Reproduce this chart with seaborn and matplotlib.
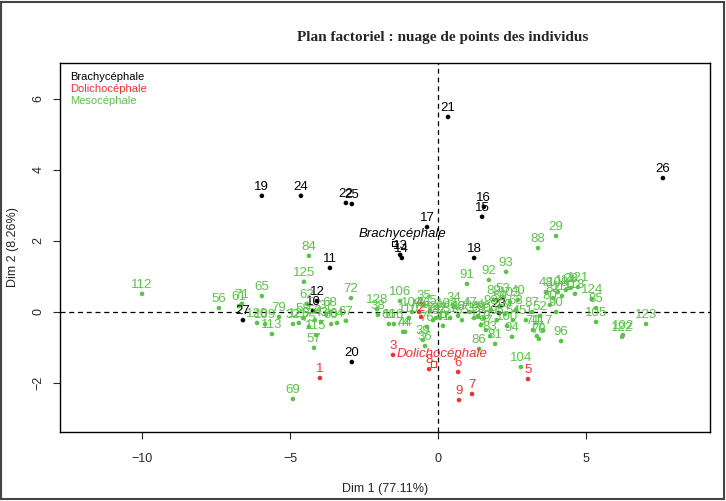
import pandas as pd
import matplotlib
matplotlib.use('Agg')
import matplotlib.pyplot as plt
import seaborn as sns
from matplotlib.patches import Rectangle

# individuals (Dim 1, Dim 2)
brachy_ids = [10, 11, 12, 13, 14, 15, 16, 17, 18, 19, 20, 21, 22, 23, 24, 25, 26, 27]
brachy_dim1 = [-4.22, -3.65, -4.09, -1.28, -1.22, 1.49, 1.55, -0.37, 1.22, -5.95,
               -2.91, 0.34, -3.11, 2.06, -4.63, -2.91, 7.60, -6.59]
brachy_dim2 = [0.03, 1.24, 0.31, 1.61, 1.52, 2.68, 2.96, 2.39, 1.52, 3.27,
               -1.41, 5.49, 3.07, -0.03, 3.27, 3.04, 3.77, -0.23]

dolicho_ids = [1, 2, 3, 4, 5, 6, 7, 8, 9]
dolicho_dim1 = [-3.99, -0.57, -1.52, -0.64, 3.04, 0.68, 1.15, -0.30, 0.71]
dolicho_dim2 = [-1.86, -0.14, -1.21, 0.00, -1.89, -1.69, -2.31, -1.61, -2.48]

meso_ids = [112, 56, 61, 71, 65, 120, 109, 113, 79, 32, 126, 58, 75, 62, 59, 115, 37, 57,
            69, 84, 125, 72, 60, 64, 67, 43, 68, 128, 38, 66, 116, 106, 74, 44, 110, 101,
            39, 36, 76, 35, 45, 73, 127, 42, 41, 107, 34, 31, 46, 55, 91, 47, 33, 49, 119,
            30, 97, 92, 86, 83, 81, 98, 89, 95, 50, 53, 99, 93, 100, 103, 94, 54, 63, 40,
            104, 51, 87, 70, 77, 78, 117, 52, 48, 80, 82, 90, 108, 96, 111, 114, 28, 88,
            29, 118, 121, 124, 85, 105, 122, 102, 123]
meso_dim1 = [-10.00, -7.40, -6.72, -6.62, -5.95, -6.11, -5.84, -5.61, -5.37, -4.90, -4.70,
             -4.56, -4.36, -4.43, -4.16, -4.12, -3.78, -4.19, -4.90, -4.36, -4.53, -2.94,
             -3.61, -3.41, -3.11, -3.95, -3.65, -2.06, -2.03, -1.66, -1.49, -1.28, -1.18,
             -1.11, -0.98, -0.88, -0.51, -0.44, -0.37, -0.47, -0.27, -0.17, -0.07, 0.07,
             0.17, 0.30, 0.54, 0.41, 0.68, 0.81, 0.98, 1.08, 1.22, 1.35, 1.45, 1.55, 1.62,
             1.72, 1.39, 1.76, 1.93, 1.79, 1.89, 1.99, 2.09, 2.20, 2.26, 2.30, 2.33, 2.43,
             2.50, 2.53, 2.64, 2.70, 2.80, 2.97, 3.18, 3.21, 3.34, 3.41, 3.55, 3.45, 3.65,
             3.78, 3.89, 3.99, 4.05, 4.16, 4.19, 4.32, 4.49, 3.38, 3.99, 4.63, 4.73, 5.20,
             5.34, 5.34, 6.22, 6.25, 7.03]
meso_dim2 = [0.51, 0.11, 0.17, 0.23, 0.45, -0.31, -0.34, -0.62, -0.14, -0.34, -0.31,
             -0.17, -0.42, 0.23, -0.23, -0.65, -0.08, -1.01, -2.45, 1.58, 0.85, 0.39,
             -0.34, -0.31, -0.25, -0.28, 0.00, 0.08, -0.08, -0.34, -0.34, 0.31, -0.56,
             -0.56, -0.17, 0.00, -0.79, -0.96, -0.42, 0.20, 0.06, -0.23, -0.17, -0.17,
             -0.39, -0.03, 0.14, -0.17, -0.11, -0.23, 0.79, 0.00, -0.17, -0.11, -0.37,
             -0.17, -0.51, 0.90, -1.04, -0.68, -0.90, 0.06, 0.34, -0.23, 0.17, 0.39, -0.06,
             1.13, -0.39, 0.28, -0.70, -0.23, 0.06, 0.34, -1.55, -0.23, 0.00, -0.51, -0.68,
             -0.76, -0.51, -0.11, 0.56, 0.20, 0.39, 0.00, 0.56, -0.82, 0.45, 0.62, 0.68,
             1.80, 2.14, 0.51, 0.70, 0.37, 0.11, -0.28, -0.70, -0.65, -0.34]

groups = ['Brachycéphale', 'Dolichocéphale', 'Mesocéphale']
colors = ['#000000', '#EE3333', '#5BC24A']
dim1_pct = 77.11
dim2_pct = 8.26

df = pd.concat([
    pd.DataFrame({'id': brachy_ids, 'dim1': brachy_dim1, 'dim2': brachy_dim2, 'groupe': groups[0]}),
    pd.DataFrame({'id': dolicho_ids, 'dim1': dolicho_dim1, 'dim2': dolicho_dim2, 'groupe': groups[1]}),
    pd.DataFrame({'id': meso_ids, 'dim1': meso_dim1, 'dim2': meso_dim2, 'groupe': groups[2]}),
], ignore_index=True)
centres = df.groupby('groupe')[['dim1', 'dim2']].mean().reindex(groups)
pal = dict(zip(groups, colors))

sns.set_style('ticks')
plt.rcParams['font.family'] = ['Liberation Sans', 'DejaVu Sans']

fig = plt.figure(figsize=(7.26, 5.01), dpi=100)
ax = fig.add_axes([60 / 726, 1 - 432 / 501, 650 / 726, 369 / 501])

ax.axhline(0, color='black', ls=(0, (4, 3)), lw=0.9, zorder=1)
ax.axvline(0, color='black', ls=(0, (4, 3)), lw=0.9, zorder=1)

sns.scatterplot(data=df, x='dim1', y='dim2', hue='groupe', palette=pal, s=11,
                linewidth=0, legend=False, ax=ax, zorder=3)

for _, r in df.iterrows():
    ax.annotate(str(r['id']), (r['dim1'], r['dim2']), xytext=(0, 2), textcoords='offset points',
                ha='center', va='bottom', fontsize=9.5, color=pal[r['groupe']], zorder=4)

# group centres
for g in groups:
    cx, cy = centres.loc[g, 'dim1'], centres.loc[g, 'dim2']
    ax.scatter([cx], [cy], marker='s', s=14, facecolors='none', edgecolors=pal[g], linewidths=0.8, zorder=4)
    ax.annotate(g, (cx, cy), xytext=(6, 3), textcoords='offset points', ha='center', va='bottom',
                fontsize=9.5, style='italic', color=pal[g], zorder=5)

ax.set_xlim(-12.77, 9.19)
ax.set_ylim(-3.38, 7.01)
ax.set_xticks([-10, -5, 0, 5])
ax.set_yticks([-2, 0, 2, 4, 6])
ax.tick_params(direction='out', length=5, width=0.8, labelsize=9)
ax.tick_params(axis='x', pad=10)
ax.tick_params(axis='y', pad=6)
for lab in ax.get_yticklabels():
    lab.set_rotation(90)
    lab.set_va('center')
for sp in ax.spines.values():
    sp.set_visible(True)
    sp.set_linewidth(1.0)
    sp.set_color('black')
ax.set_xlabel(f'Dim 1 ({dim1_pct:.2f}%)', fontsize=9, labelpad=13)
ax.set_ylabel(f'Dim 2 ({dim2_pct:.2f}%)', fontsize=9, labelpad=10)

fig.text(443 / 726, 1 - 38 / 501, 'Plan factoriel : nuage de points des individus',
         ha='center', va='center', fontsize=11, fontweight='bold', family='Liberation Serif')

for i, (g, c) in enumerate(zip(groups, colors)):
    fig.text(70 / 726, 1 - (77 + 12 * i) / 501, g, color=c, fontsize=8, ha='left', va='center')

fig.patches.append(Rectangle((0.002, 0.003), 0.995, 0.993, transform=fig.transFigure,
                             fill=False, ec='#444444', lw=1.5))

fig.savefig('out.png', dpi=100)
